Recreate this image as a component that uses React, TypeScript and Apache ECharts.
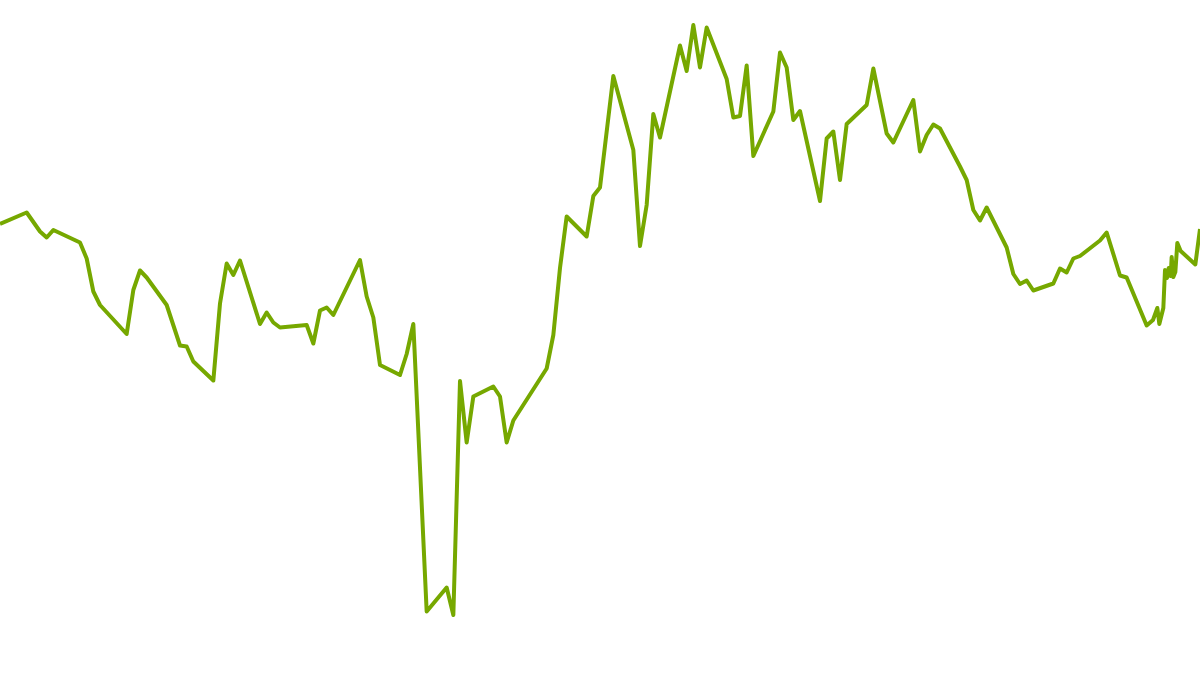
import { useEffect, useRef } from 'react'
import * as echarts from 'echarts'

// x: step index along the series, y: value
const STEPS = [
  0, 4, 6, 7, 8, 12, 13, 14, 15, 19, 20, 21, 22, 25, 27, 28, 29, 32, 33, 34,
  35, 36, 39, 40, 41, 42, 46, 47, 48, 49, 50, 54, 55, 56, 57, 60, 61, 62, 64, 67,
  68, 69, 70, 71, 74, 75, 76, 77, 82, 83, 84, 85, 88, 89, 90, 92, 95, 96, 97, 98,
  99, 102, 103, 104, 105, 106, 109, 110, 111, 112, 113, 116, 117, 118, 119, 120, 123, 124, 125, 126,
  127, 130, 131, 133, 134, 137, 138, 139, 140, 141, 144, 145, 146, 147, 148, 151, 152, 153, 154, 155,
  158, 159, 160, 161, 162, 165, 166, 168, 169, 172, 172.95, 173.6, 173.9, 174.5, 174.75, 175.05, 175.3, 175.6, 175.75, 176,
  176.3, 176.6, 177.1, 179.3, 180,
]

const VALUES = [
  90.2, 92.5, 88.7, 87.5, 89.0, 86.5, 83.3, 76.7, 74.0, 68.2, 77.0, 80.9, 79.5, 74.0, 65.9, 65.7, 62.7, 58.9, 74.3, 82.3,
  80.0, 82.9, 70.2, 72.5, 70.5, 69.5, 70.0, 66.3, 72.9, 73.5, 72.0, 83.0, 75.7, 71.5, 62.0, 60.0, 64.2, 70.2, 12.7, 17.5,
  12.0, 58.8, 46.5, 55.7, 57.7, 55.7, 46.5, 50.9, 61.3, 68.0, 81.4, 91.7, 87.7, 95.8, 97.5, 119.8, 105.0, 85.8, 94.0, 112.2,
  107.5, 125.9, 120.8, 130.0, 121.5, 129.5, 119.2, 111.5, 111.8, 121.9, 103.8, 112.7, 124.5, 121.5, 111.0, 112.8, 94.8, 107.3, 108.7, 99.0,
  110.2, 114.0, 121.3, 108.3, 106.5, 115.0, 104.7, 108.0, 110.1, 109.3, 101.7, 99.0, 93.0, 90.9, 93.5, 85.5, 80.2, 78.2, 78.9, 76.9,
  78.3, 81.3, 80.5, 83.3, 83.8, 86.9, 88.5, 79.9, 79.5, 69.9, 71.0, 73.4, 70.2, 73.4, 81.0, 79.4, 81.4, 79.8, 83.6, 79.6,
  80.6, 86.4, 84.8, 82.1, 89.2,
]

export default function App() {
  const chartRef = useRef<HTMLDivElement>(null)

  useEffect(() => {
    if (!chartRef.current) return
    const chart = echarts.init(chartRef.current, undefined, { renderer: 'svg' })

    const option: echarts.EChartsOption = {
      animation: false,
      grid: { left: 0, right: 0, top: 0, bottom: 0 },
      xAxis: { type: 'value', min: 0, max: 180, show: false },
      yAxis: { type: 'value', min: 0, max: 135, show: false },
      series: [
        {
          type: 'line',
          data: STEPS.map((s, i) => [s, VALUES[i]]),
          showSymbol: false,
          lineStyle: { color: '#76a800', width: 4, join: 'round' },
        },
      ],
    }
    chart.setOption(option)

    return () => chart.dispose()
  }, [])

  return (
    <div
      ref={chartRef}
      style={{ position: 'fixed', left: 0, top: 0, width: 1200, height: 675, background: '#fff' }}
    />
  )
}
